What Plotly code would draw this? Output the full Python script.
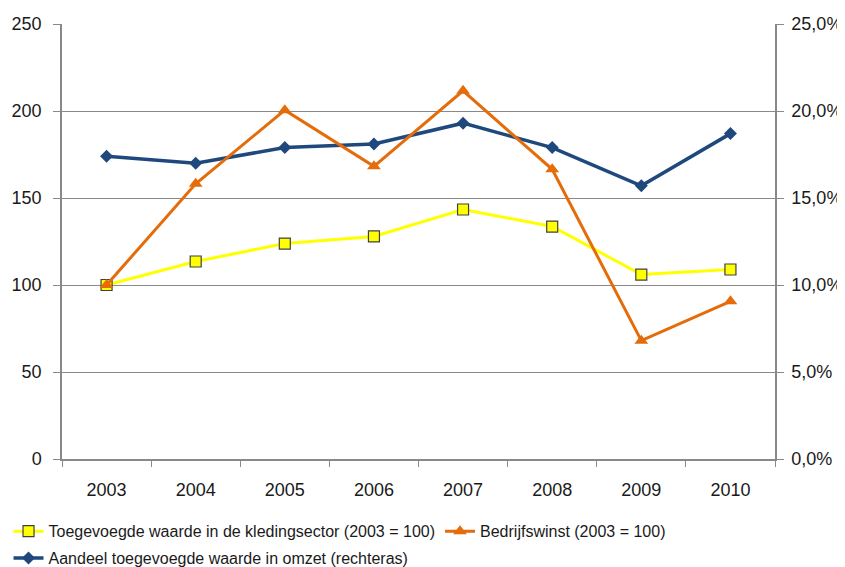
import plotly.graph_objects as go

years = ["2003", "2004", "2005", "2006", "2007", "2008", "2009", "2010"]

# toegevoegde waarde kledingsector, index 2003 = 100
toegevoegde_waarde = [100, 113.5, 123.8, 127.9, 143.4, 133.6, 106.0, 108.9]
# bedrijfswinst, index 2003 = 100
bedrijfswinst = [100, 158.2, 200.5, 168.2, 211.6, 166.5, 68.0, 90.6]
# aandeel toegevoegde waarde in omzet (rechteras)
aandeel = [0.174, 0.170, 0.179, 0.181, 0.193, 0.179, 0.157, 0.187]

font = "Liberation Sans, Arial"
grid = "#898989"

fig = go.Figure()

# index series sit on the overlaying axis (y2, left) so they draw above the blue line
fig.add_trace(go.Scatter(
    x=years, y=toegevoegde_waarde,
    name="Toegevoegde waarde in de kledingsector (2003 = 100)",
    mode="lines+markers", yaxis="y2", legend="legend",
    line=dict(color="#FFFF00", width=3),
    marker=dict(symbol="square", size=11, color="#FFFF00",
                line=dict(color="#404040", width=1.2)),
))

fig.add_trace(go.Scatter(
    x=years, y=bedrijfswinst,
    name="Bedrijfswinst (2003 = 100)",
    mode="lines+markers", yaxis="y2", legend="legend",
    line=dict(color="#E46C0A", width=3),
    marker=dict(symbol="triangle-up", size=12, color="#E46C0A"),
))

fig.add_trace(go.Scatter(
    x=years, y=aandeel,
    name="Aandeel toegevoegde waarde in omzet (rechteras)",
    mode="lines+markers", yaxis="y", legend="legend2",
    line=dict(color="#1F497D", width=3.5),
    marker=dict(symbol="diamond", size=10, color="#1F497D"),
))

legend_style = dict(
    orientation="h", x=-0.075, xanchor="left", yanchor="top",
    font=dict(family=font, size=16, color="#1a1a1a"),
    itemwidth=30, bgcolor="rgba(0,0,0,0)",
)

fig.update_layout(
    # page body has an 8px margin, so the figure is shifted and trimmed by 8px
    width=837, height=559,
    margin=dict(l=54, r=70, t=16, b=108, autoexpand=False),
    plot_bgcolor="white", paper_bgcolor="white",
    separators=",.",
    font=dict(family=font, size=18, color="#1a1a1a"),
    showlegend=True,
    legend=dict(legend_style, y=-0.127),
    legend2=dict(legend_style, y=-0.189),
    xaxis=dict(
        type="category", range=[-0.5, 7.5],
        tickson="boundaries", ticks="outside", ticklen=6, tickcolor=grid,
        ticklabelstandoff=14,
        showline=True, linecolor=grid, linewidth=1.5,
        showgrid=False, zeroline=False,
    ),
    yaxis=dict(
        range=[0, 0.25], dtick=0.05, tickformat=".1%", side="right",
        ticks="outside", ticklen=7, tickcolor=grid, ticklabelstandoff=4,
        showline=True, linecolor=grid, linewidth=1.5,
        showgrid=True, gridcolor=grid, gridwidth=1.2, zeroline=False,
    ),
    yaxis2=dict(
        range=[0, 250], dtick=50, side="left", overlaying="y",
        ticks="outside", ticklen=7, tickcolor=grid, ticklabelstandoff=8,
        showline=True, linecolor=grid, linewidth=1.5,
        showgrid=False, zeroline=False,
    ),
)

fig.write_html("out.html")
